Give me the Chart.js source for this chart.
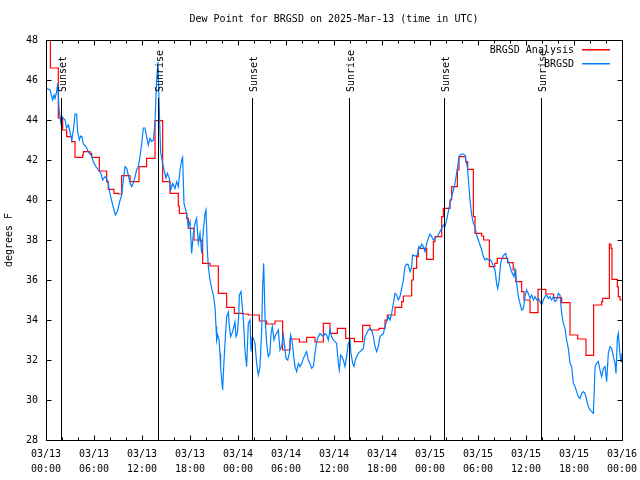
<!DOCTYPE html>
<html>
<head>
<meta charset="utf-8">
<title>Dew Point for BRGSD</title>
<script src="https://cdn.jsdelivr.net/npm/chart.js@4.4.1/dist/chart.umd.min.js"></script>
<style>
    html, body { margin: 0; padding: 0; background: #fff; }
</style>
</head>
<body>
<canvas id="dewChart" width="640" height="480"></canvas>
<script>
// hours since 03/13 00:00 UTC
const dayLabels = ['03/13', '03/14', '03/15', '03/16'];
const hourLabels = ['00:00', '06:00', '12:00', '18:00'];

const sunHours = [1.83, 14.04, 25.79, 37.88, 49.79, 61.92];
const sunNames = ['Sunset', 'Sunrise', 'Sunset', 'Sunrise', 'Sunset', 'Sunrise'];

const analysisHours = [0, 0.55, 1.54, 2.08, 2.58, 3.21, 3.625, 4.58, 4.67, 5.5, 5.71, 6.67, 7.58, 7.79, 8.5, 9.04,
    9.46, 10.5, 11.625, 12.58, 13.625, 14.58, 15.5, 16.54, 16.67, 17.58, 17.79, 18.5, 19.46, 19.58, 20.5, 21.54,
    22.58, 23.54, 24.67, 25.29, 26.67, 27.58, 28.625, 29.58, 30.5, 31.67, 32.58, 33.625, 34.67, 35.5, 36.42, 37.46,
    38.54, 39.58, 40.5, 41.625, 42.375, 42.67, 43.625, 44.46, 44.67, 45.71, 45.92, 46.33, 46.54, 47.58, 48.42, 48.625,
    49.46, 49.67, 50.5, 50.71, 51.42, 51.625, 52.46, 52.71, 53.42, 53.625, 54.46, 54.7, 55.42, 56.1, 56.4, 57.7,
    58.4, 58.72, 59.46, 59.75, 60.5, 61.5, 62.48, 63.46, 64.46, 65.5, 66.46, 67.5, 68.45, 69.46, 69.58, 70.42,
    70.625, 70.75, 71.42, 71.54, 71.75, 72];
const analysisValues = [49.5, 46.6, 44.1, 43.5, 43.17, 42.92, 42.13, 42.25, 42.42, 42.33, 42.13, 41.45, 40.92, 40.53, 40.33, 40.3,
    41.22, 40.92, 41.67, 42.08, 43.97, 40.92, 40.33, 39.7, 39.33, 39.08, 38.58, 38.0, 37.92, 36.83, 36.7, 35.33,
    34.63, 34.33, 34.3, 34.25, 33.95, 33.8, 33.95, 32.5, 33.05, 32.9, 33.13, 32.9, 33.83, 33.33, 33.58, 33.08,
    32.92, 33.73, 33.5, 33.58, 34.0, 34.25, 34.63, 34.92, 35.2, 36.0, 36.58, 37.17, 37.58, 37.03, 37.92, 38.17,
    39.17, 39.58, 40.0, 40.67, 41.5, 42.17, 41.92, 41.53, 39.17, 38.33, 38.2, 38.0, 36.67, 36.83, 37.08, 36.87,
    36.5, 35.92, 35.42, 35.0, 34.37, 35.53, 35.3, 35.12, 34.87, 33.25, 33.05, 32.23, 34.75, 34.92, 35.08, 37.8,
    37.58, 36.03, 35.67, 35.17, 35.0, 35.0];

const obsHours = [0, 0.5, 0.83, 1.0, 1.125, 1.33, 1.46, 1.62, 1.83, 1.96, 2.17, 2.375, 2.58, 2.79, 3.0, 3.21,
    3.42, 3.625, 3.83, 3.96, 4.17, 4.33, 4.5, 4.67, 5.0, 5.29, 5.71, 5.92, 6.25, 6.54, 6.875, 7.08,
    7.375, 7.58, 7.79, 8.0, 8.5, 8.67, 8.92, 9.17, 9.46, 9.67, 9.875, 10.08, 10.29, 10.5, 10.71, 10.92,
    11.125, 11.33, 11.54, 11.75, 11.96, 12.17, 12.375, 12.58, 12.79, 13.0, 13.21, 13.42, 13.625, 13.83, 14.0, 14.17,
    14.33, 14.54, 14.75, 15.0, 15.17, 15.42, 15.58, 15.83, 16.125, 16.33, 16.54, 16.75, 16.96, 17.08, 17.25, 17.58,
    17.79, 18.0, 18.21, 18.42, 18.625, 18.83, 19.04, 19.25, 19.46, 19.67, 19.875, 20.0, 20.17, 20.29, 20.5, 20.71,
    20.92, 21.125, 21.25, 21.33, 21.46, 21.625, 21.75, 21.83, 21.96, 22.08, 22.17, 22.29, 22.42, 22.58, 22.79, 22.92,
    23.08, 23.33, 23.625, 23.75, 23.92, 24.08, 24.17, 24.375, 24.54, 24.67, 24.875, 25.08, 25.29, 25.5, 25.625, 25.79,
    25.92, 26.125, 26.33, 26.54, 26.75, 26.96, 27.08, 27.21, 27.375, 27.58, 27.79, 28.0, 28.125, 28.29, 28.5, 28.67,
    28.83, 29.04, 29.25, 29.46, 29.67, 29.79, 30.0, 30.21, 30.42, 30.58, 30.75, 30.92, 31.125, 31.33, 31.54, 31.75,
    31.96, 32.17, 32.375, 32.58, 32.79, 33.0, 33.21, 33.42, 33.625, 33.83, 34.04, 34.25, 34.46, 34.67, 34.875, 35.08,
    35.29, 35.5, 35.71, 35.92, 36.125, 36.33, 36.54, 36.67, 36.83, 37.0, 37.17, 37.375, 37.58, 37.79, 38.0, 38.125,
    38.33, 38.5, 38.67, 38.83, 39.04, 39.25, 39.46, 39.67, 39.875, 40.08, 40.29, 40.5, 40.71, 40.92, 41.125, 41.33,
    41.54, 41.75, 41.96, 42.17, 42.375, 42.58, 42.79, 43.0, 43.21, 43.42, 43.625, 43.83, 44.04, 44.25, 44.46, 44.67,
    44.875, 45.08, 45.29, 45.5, 45.71, 45.83, 46.125, 46.42, 46.625, 46.75, 46.96, 47.17, 47.375, 47.58, 47.79, 48.0,
    48.21, 48.42, 48.625, 48.83, 49.04, 49.25, 49.46, 49.67, 49.875, 50.08, 50.29, 50.5, 50.71, 50.92, 51.125, 51.33,
    51.54, 51.75, 51.96, 52.17, 52.375, 52.5, 52.67, 52.79, 53.0, 53.21, 53.42, 53.625, 53.83, 54.04, 54.25, 54.46,
    54.67, 54.875, 55.08, 55.29, 55.5, 55.71, 55.92, 56.125, 56.33, 56.46, 56.625, 56.83, 57.04, 57.25, 57.46, 57.67,
    57.875, 58.08, 58.29, 58.5, 58.625, 58.83, 59.04, 59.25, 59.46, 59.67, 59.875, 60.08, 60.29, 60.5, 60.71, 60.92,
    61.125, 61.33, 61.54, 61.75, 61.96, 62.17, 62.375, 62.58, 62.79, 63.0, 63.21, 63.42, 63.625, 63.83, 64.04, 64.25,
    64.46, 64.67, 64.875, 65.08, 65.29, 65.5, 65.71, 65.92, 66.125, 66.33, 66.54, 66.75, 66.96, 67.17, 67.375, 67.58,
    67.79, 68.0, 68.21, 68.42, 68.54, 68.625, 68.83, 69.04, 69.25, 69.46, 69.67, 69.875, 70.08, 70.29, 70.5, 70.71,
    70.92, 71.125, 71.25, 71.42, 71.54, 71.67, 71.75, 71.875, 71.96];
const obsValues = [45.6, 45.5, 45.0, 45.25, 45.08, 45.42, 45.85, 44.6, 43.9, 44.2, 44.08, 44.0, 43.6, 43.75, 43.4, 43.0,
    43.5, 44.3, 44.3, 43.4, 43.0, 43.2, 43.17, 42.8, 42.67, 42.4, 42.2, 41.9, 41.67, 41.5, 41.33, 41.0,
    41.17, 41.08, 40.8, 40.3, 39.5, 39.25, 39.42, 39.85, 40.25, 41.0, 41.67, 41.58, 41.25, 40.85, 40.67, 40.85,
    41.17, 41.5, 41.67, 42.17, 42.8, 43.6, 43.6, 43.17, 42.75, 43.08, 42.92, 43.0, 43.9, 46.0, 46.9, 44.33,
    42.4, 41.92, 41.5, 41.1, 41.33, 41.08, 40.5, 40.83, 40.58, 40.92, 40.67, 41.5, 42.0, 42.13, 39.83, 39.33,
    38.67, 38.92, 37.33, 38.33, 38.83, 39.08, 37.83, 38.33, 37.33, 38.5, 39.33, 39.5, 37.5, 36.67, 36.0, 35.58,
    35.25, 34.67, 33.67, 33.0, 33.25, 33.0, 32.33, 31.58, 31.0, 30.5, 31.33, 32.25, 33.17, 34.17, 34.4, 33.67,
    33.17, 33.42, 33.9, 33.17, 33.33, 34.17, 35.25, 35.42, 34.67, 34.0, 32.5, 31.67, 33.83, 34.0, 32.42, 33.17,
    33.08, 32.83, 31.83, 31.25, 31.67, 33.5, 35.67, 36.83, 34.17, 32.83, 32.17, 32.33, 33.33, 33.67, 33.0, 33.25,
    33.33, 33.5, 32.5, 32.67, 33.25, 32.83, 32.08, 32.0, 32.33, 33.25, 33.0, 32.33, 31.67, 31.42, 31.83, 31.67,
    31.83, 32.08, 32.25, 32.42, 32.0, 31.83, 31.58, 31.67, 32.33, 32.92, 33.17, 33.33, 33.25, 33.17, 33.33, 33.25,
    33.0, 33.5, 33.17, 33.0, 32.92, 32.83, 31.83, 31.5, 32.25, 32.17, 32.0, 31.67, 32.17, 32.83, 33.0, 32.33,
    31.83, 31.67, 32.0, 32.17, 32.33, 32.42, 32.5, 32.58, 33.17, 33.33, 33.5, 33.58, 33.5, 33.17, 32.67, 32.42,
    32.67, 33.17, 33.25, 33.33, 33.67, 33.92, 34.17, 34.0, 34.33, 34.83, 35.33, 35.25, 35.0, 35.17, 35.58, 36.0,
    36.67, 36.8, 36.75, 36.42, 36.67, 37.25, 37.2, 37.25, 37.67, 37.58, 37.8, 37.67, 37.42, 37.83, 38.08, 38.3,
    38.17, 38.0, 38.08, 38.17, 38.25, 38.42, 38.58, 38.75, 38.67, 39.0, 39.42, 39.83, 40.17, 40.5, 40.83, 41.33,
    41.92, 42.25, 42.3, 42.3, 42.25, 41.92, 41.67, 41.08, 40.0, 39.25, 38.83, 38.67, 38.25, 38.0, 37.75, 37.5,
    37.17, 37.0, 37.08, 37.0, 37.03, 36.92, 36.67, 36.5, 35.83, 35.58, 35.92, 36.83, 37.13, 37.25, 37.33, 37.0,
    36.83, 36.58, 36.33, 36.17, 36.5, 35.83, 35.17, 34.83, 34.5, 34.58, 35.17, 35.5, 35.33, 35.08, 35.25, 35.0,
    35.17, 35.0, 35.08, 34.92, 34.75, 35.0, 35.17, 35.25, 35.08, 35.17, 35.0, 35.17, 34.92, 35.0, 35.33, 35.25,
    34.33, 33.83, 33.58, 33.0, 32.58, 31.83, 31.67, 30.83, 30.67, 30.42, 30.17, 30.08, 30.33, 30.42, 30.33, 30.0,
    29.67, 29.5, 29.42, 29.33, 30.5, 31.67, 31.83, 31.92, 31.5, 31.17, 31.58, 31.67, 30.92, 32.33, 32.67, 32.58,
    32.17, 31.83, 31.33, 33.08, 33.33, 32.67, 32.25, 31.92, 32.33];

const monoFont = "'DejaVu Sans Mono', 'Liberation Mono', monospace";
Chart.defaults.font.family = monoFont;
Chart.defaults.font.size = 10;
Chart.defaults.color = '#000';

const toPoints = (xs, ys) => xs.map((h, i) => ({ x: h, y: ys[i] }));

// gnuplot style box with inward ticks on all four sides
const frameTicks = {
    id: 'frameTicks',
    afterDatasetsDraw(chart) {
        const { ctx, chartArea: a, scales: { x, y } } = chart;
        const L = Math.round(a.left) + 0.5, R = Math.round(a.right) + 0.5;
        const T = Math.round(a.top) + 0.5, B = Math.round(a.bottom) + 0.5;
        ctx.save();
        ctx.strokeStyle = '#000';
        ctx.lineWidth = 1;
        ctx.beginPath();
        x.ticks.forEach(t => {
            const px = Math.round(x.getPixelForValue(t.value)) + 0.5;
            const len = t.value % 6 === 0 ? 5 : 3;
            ctx.moveTo(px, B); ctx.lineTo(px, B - len);
            ctx.moveTo(px, T); ctx.lineTo(px, T + len);
        });
        y.ticks.forEach(t => {
            const py = Math.round(y.getPixelForValue(t.value)) + 0.5;
            ctx.moveTo(L, py); ctx.lineTo(L + 5, py);
            ctx.moveTo(R, py); ctx.lineTo(R - 5, py);
        });
        ctx.stroke();
        ctx.strokeRect(L, T, R - L, B - T);
        ctx.restore();
    }
};

// sunrise / sunset markers
const sunMarks = {
    id: 'sunMarks',
    afterDatasetsDraw(chart) {
        const { ctx, chartArea: a, scales: { x, y } } = chart;
        const top = y.getPixelForValue(45.1);
        const textStart = y.getPixelForValue(45.4);
        ctx.save();
        ctx.strokeStyle = '#000';
        ctx.lineWidth = 1;
        ctx.fillStyle = '#000';
        ctx.font = '10px ' + monoFont;
        sunHours.forEach((h, i) => {
            const px = Math.round(x.getPixelForValue(h)) + 0.5;
            ctx.beginPath();
            ctx.moveTo(px, top);
            ctx.lineTo(px, a.bottom);
            ctx.stroke();
            ctx.save();
            ctx.translate(px + 4, textStart);
            ctx.rotate(-Math.PI / 2);
            ctx.textAlign = 'left';
            ctx.textBaseline = 'alphabetic';
            ctx.fillText(sunNames[i], 0, 0);
            ctx.restore();
        });
        ctx.restore();
    }
};

// key in the top right corner: text right aligned, line sample after it
const keyBox = {
    id: 'keyBox',
    afterDraw(chart) {
        const { ctx, chartArea: a } = chart;
        ctx.save();
        ctx.font = '10px ' + monoFont;
        ctx.textAlign = 'right';
        ctx.textBaseline = 'middle';
        chart.data.datasets.forEach((ds, i) => {
            const yy = Math.round(a.top + 9 + i * 13.5);
            ctx.fillStyle = '#000';
            ctx.fillText(ds.label, a.right - 48, yy + 1);
            ctx.fillStyle = ds.borderColor;
            ctx.fillRect(a.right - 40, yy, 28, 1.5);
        });
        ctx.restore();
    }
};

new Chart(document.getElementById('dewChart'), {
    type: 'line',
    data: {
        datasets: [{
            label: 'BRGSD Analysis',
            data: toPoints(analysisHours, analysisValues),
            borderColor: '#ff0000',
            borderWidth: 1.2,
            stepped: 'before',
            pointRadius: 0,
            order: 1
        }, {
            label: 'BRGSD',
            data: toPoints(obsHours, obsValues),
            borderColor: '#0080ff',
            borderWidth: 1.2,
            pointRadius: 0,
            tension: 0,
            order: 0
        }]
    },
    options: {
        responsive: false,
        animation: false,
        layout: { padding: { top: 0, right: 18, bottom: 0, left: 0 } },
        plugins: {
            legend: { display: false },
            tooltip: { enabled: false },
            title: {
                display: true,
                text: 'Dew Point for BRGSD on 2025-Mar-13 (time in UTC)',
                fullSize: false,
                color: '#000',
                font: { size: 10, weight: 'normal', lineHeight: 1.2 },
                padding: { top: 13, bottom: 15 }
            }
        },
        scales: {
            x: {
                type: 'linear',
                min: 0,
                max: 72,
                grid: { display: false, drawTicks: false },
                border: { display: false },
                afterFit: scale => {
                    scale.height = 40;
                    scale.paddingLeft = 0;
                    scale.paddingRight = 0;
                },
                ticks: {
                    stepSize: 2,
                    autoSkip: false,
                    maxRotation: 0,
                    padding: 7,
                    font: { size: 10, lineHeight: 1.5 },
                    callback: v => v % 6 === 0
                        ? [dayLabels[Math.floor(v / 24)], hourLabels[(v % 24) / 6]]
                        : ''
                }
            },
            y: {
                min: 28,
                max: 48,
                grid: { display: false, drawTicks: false },
                border: { display: false },
                afterFit: scale => { scale.width = 46; },
                ticks: { stepSize: 2, padding: 8 },
                title: {
                    display: true,
                    text: 'degrees F',
                    font: { size: 10 },
                    padding: { top: 3, bottom: 0 }
                }
            }
        }
    },
    plugins: [frameTicks, sunMarks, keyBox]
});
</script>
</body>
</html>
